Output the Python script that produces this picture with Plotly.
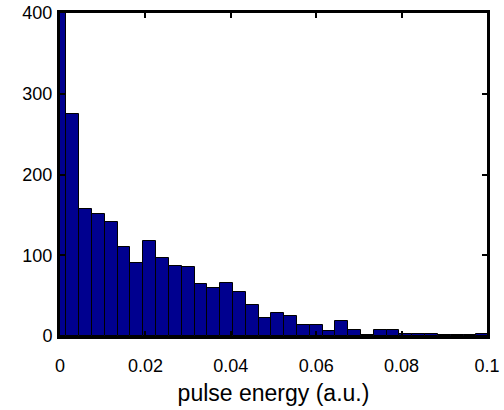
import plotly.graph_objects as go

# Histogram bin centers (pulse energy, a.u.) and counts
bin_width = 0.003
bin_centers = [round(i * bin_width, 4) for i in range(34)]
counts = [420, 275, 157, 151, 141, 110, 91, 118, 96, 87,
          86, 65, 59, 66, 54, 38, 22, 29, 25, 14,
          14, 6, 18, 7, 1, 7, 7, 3, 3, 2,
          1, 1, 1, 2]

x_ticks = [0, 0.02, 0.04, 0.06, 0.08, 0.1]
x_ticklabels = ["0", "0.02", "0.04", "0.06", "0.08", "0.1"]
y_ticks = [0, 100, 200, 300, 400]

fig = go.Figure(go.Bar(
    x=bin_centers, y=counts, width=bin_width,
    marker=dict(color="#00008F", line=dict(color="black", width=1)),
))

axis_common = dict(
    showline=True, linecolor="black", linewidth=3, mirror="ticks",
    ticks="inside", ticklen=5, tickwidth=2, tickcolor="black",
    showgrid=False, zeroline=False, automargin=False,
    tickfont=dict(family="Liberation Sans, Arial, sans-serif", size=18, color="black"),
)

fig.update_layout(
    template="none",
    width=504, height=410,
    margin=dict(l=60, r=17, t=13, b=74),
    paper_bgcolor="white", plot_bgcolor="white",
    showlegend=False, bargap=0,
    xaxis=dict(range=[0, 0.1], tickvals=x_ticks, ticktext=x_ticklabels,
               ticklabelstandoff=11,
               title=dict(text="pulse energy (a.u.)", standoff=11,
                          font=dict(family="Liberation Sans, Arial, sans-serif", size=23, color="black")),
               **axis_common),
    yaxis=dict(range=[0, 400], tickvals=y_ticks, ticklabelstandoff=1, **axis_common),
)

fig.write_html("out.html")
